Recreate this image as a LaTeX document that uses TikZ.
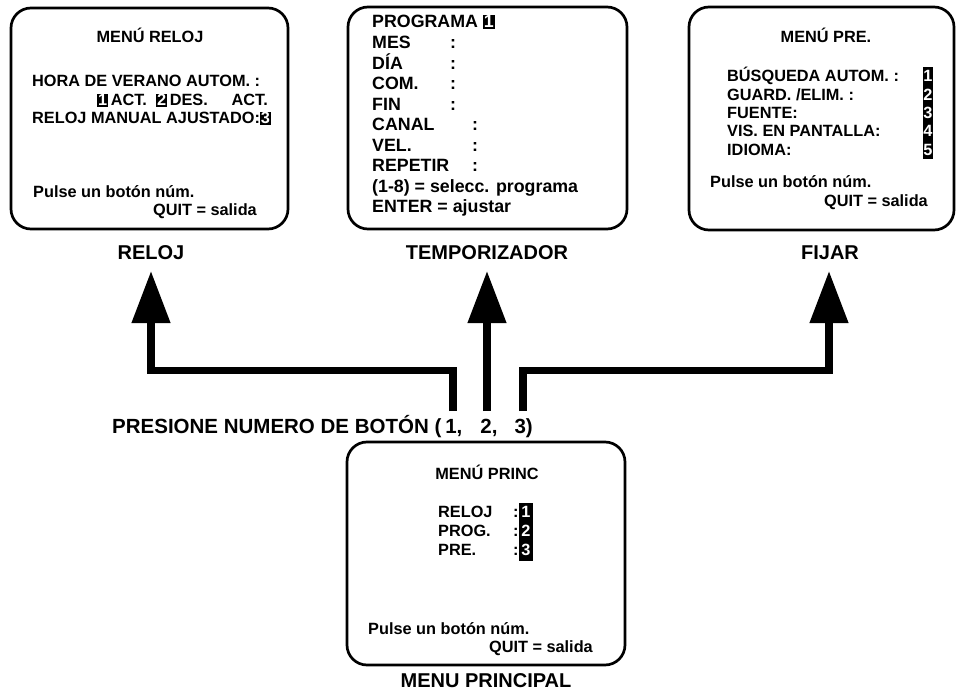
\documentclass[tikz,border=0pt]{standalone}
\usepackage{fontspec}
\setmainfont{Liberation Sans}
\usetikzlibrary{arrows.meta}
\newcommand{\nbx}[1]{{\setlength{\fboxsep}{0.9pt}\colorbox{black}{\textcolor{white}{#1}}}}
\tikzset{
  screen/.style={draw, line width=2.7pt, rounded corners=20pt, rectangle, inner sep=0pt},
  txt/.style={font=\fontsize{16.3}{18}\selectfont\bfseries, anchor=base west, inner sep=0pt},
  txtr/.style={txt, anchor=base east},
  txtc/.style={txt, anchor=base},
  txtb/.style={font=\fontsize{17.8}{20}\selectfont\bfseries, anchor=base west, inner sep=0pt},
  wdig/.style={txt, anchor=base, text=white},
  lbl/.style={font=\fontsize{20}{22}\selectfont\bfseries, anchor=base, inner sep=0pt},
  conn/.style={line width=7.5pt, -{Triangle[length=52pt,width=37pt]}},
}
\begin{document}
\begin{tikzpicture}[x=1pt,y=-1pt]
\useasboundingbox (0,0) rectangle (962,698);
% screens
\node[screen, minimum width=277pt, minimum height=221pt] (reloj) at (149.5,118.5) {};
\node[screen, minimum width=279pt, minimum height=222pt] (temp) at (487.5,118) {};
\node[screen, minimum width=265pt, minimum height=223pt] (fijar) at (821.5,118.5) {};
\node[screen, minimum width=278pt, minimum height=223pt] (princ) at (486,553.5) {};
% box 1
\node[txtc] (r0) at (150,43) {MENÚ RELOJ};
\node[txt] (r1) at (32,87) {HORA DE VERANO AUTOM. :};
\node[txt] (r2a) at (97,106) {\nbx{1}\,ACT.};
\node[txt] (r2b) at (156,106) {\nbx{2}\,DES.};
\node[txtr] (r2c) at (268,106) {ACT.};
\node[txt] (r3) at (32,124) {RELOJ MANUAL AJUSTADO:\nbx{3}};
\node[txt] (r4) at (33,197) {Pulse un botón núm.};
\node[txtr] (r5) at (257,215) {QUIT = salida};
% box 2
\node[txtb] (p0) at (372,28) {PROGRAMA \nbx{1}};
\foreach \t [count=\i] in {MES,DÍA,COM.,FIN}{
  \node[txtb] (pa\i) at (372,{28+20.55*\i}) {\t};
  \node[txtb] (pc\i) at (450,{28+20.55*\i}) {:};
}
\foreach \t [count=\i from 5] in {CANAL,VEL.,REPETIR}{
  \node[txtb] (pa\i) at (372,{28+20.55*\i}) {\t};
  \node[txtb] (pc\i) at (472,{28+20.55*\i}) {:};
}
\node[txtb] (p8) at (372,{28+20.55*8}) {(1-8) = selecc. programa};
\node[txtb] (p9) at (372,{28+20.55*9}) {ENTER = ajustar};
% box 3
\node[txtc] (f0) at (826,43) {MENÚ PRE.};
\fill (923,67) rectangle (933,159);
\foreach \t [count=\i from 0] in {BÚSQUEDA AUTOM. :,GUARD. /ELIM. :,FUENTE:,VIS. EN PANTALLA:,IDIOMA:}{
  \node[txt] (fa\i) at (727,{82+18.3*\i}) {\t};
  \pgfmathtruncatemacro{\d}{\i+1}
  \node[wdig] (fd\i) at (928,{82+18.3*\i}) {\d};
}
\node[txt] (f6) at (710,188) {Pulse un botón núm.};
\node[txtr] (f7) at (928,207) {QUIT = salida};
% box 4
\node[txtc] (m0) at (487,479) {MENÚ PRINC};
\fill (519,503) rectangle (533,561);
\foreach \t [count=\i from 0] in {RELOJ,PROG.,PRE.}{
  \node[txt] (ma\i) at (438,{517+19*\i}) {\t};
  \node[txt] (mc\i) at (513,{517+19*\i}) {:};
  \pgfmathtruncatemacro{\d}{\i+1}
  \node[wdig] (md\i) at (526,{517+19*\i}) {\d};
}
\node[txt] (m4) at (368,634) {Pulse un botón núm.};
\node[txtr] (m5) at (593,652) {QUIT = salida};
% labels
\node[lbl] (lreloj) at (151,259) {RELOJ};
\node[lbl] (ltemp) at (487,259) {TEMPORIZADOR};
\node[lbl] (lfijar) at (830,259) {FIJAR};
\node[lbl, anchor=base west, font=\fontsize{20.5}{22}\selectfont\bfseries] (press) at (112,433) {PRESIONE NUMERO DE BOTÓN (\hskip 4pt 1,\hskip 18pt 2,\hskip 17pt 3)};
\node[lbl] (lmain) at (486,687) {MENU PRINCIPAL};
% connectors
\coordinate (s1) at (453,411);
\coordinate (s2) at (487,411);
\coordinate (s3) at (523,411);
\coordinate (k1) at (151,370.5);
\coordinate (k3) at (829,370.5);
\coordinate (t1) at (151,271);
\coordinate (t2) at (487,271);
\coordinate (t3) at (829,271);
\draw[conn] (s1) |- (k1) -- (t1);
\draw[conn] (s2) -- (t2);
\draw[conn] (s3) |- (k3) -- (t3);
\end{tikzpicture}
\end{document}
